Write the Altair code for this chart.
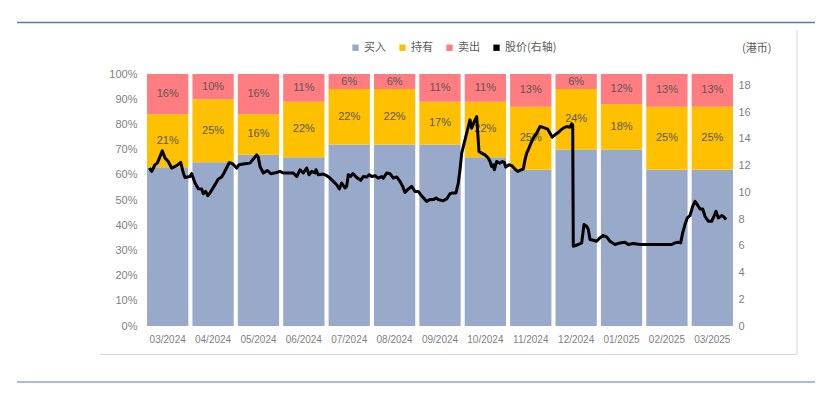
import altair as alt
import pandas as pd

# ---------------- data ----------------
months = ["03/2024", "04/2024", "05/2024", "06/2024", "07/2024", "08/2024", "09/2024",
          "10/2024", "11/2024", "12/2024", "01/2025", "02/2025", "03/2025"]
series = ["买入", "持有", "卖出"]
buy = [63, 65, 68, 67, 72, 72, 72, 67, 62, 70, 70, 62, 62]
hold = [21, 25, 16, 22, 22, 22, 17, 22, 25, 24, 18, 25, 25]
sell = [16, 10, 16, 11, 6, 6, 11, 11, 13, 6, 12, 13, 13]

# share price (HKD), position in months since start of 03/2024
price_t = [0.095, 0.148, 0.220, 0.271, 0.381, 0.441, 0.513, 0.588, 0.698, 0.787, 0.844, 0.881,
           0.992, 1.029, 1.102, 1.174, 1.249, 1.285, 1.337, 1.382, 1.432, 1.520, 1.615, 1.690,
           1.741, 1.813, 1.857, 1.932, 2.020, 2.071, 2.203, 2.314, 2.386, 2.461, 2.496, 2.534,
           2.607, 2.695, 2.770, 2.902, 2.975, 3.047, 3.157, 3.268, 3.343, 3.415, 3.488, 3.563,
           3.614, 3.673, 3.746, 3.768, 3.818, 3.929, 4.003, 4.076, 4.149, 4.224, 4.281, 4.334,
           4.407, 4.444, 4.479, 4.532, 4.576, 4.627, 4.678, 4.753, 4.810, 4.885, 4.942, 4.995,
           5.068, 5.140, 5.215, 5.251, 5.326, 5.398, 5.471, 5.546, 5.619, 5.678, 5.729, 5.801,
           5.876, 5.949, 6.022, 6.075, 6.169, 6.207, 6.280, 6.352, 6.412, 6.462, 6.573, 6.648,
           6.720, 6.780, 6.852, 6.903, 6.941, 6.978, 7.051, 7.124, 7.161, 7.198, 7.255, 7.308,
           7.359, 7.419, 7.491, 7.564, 7.602, 7.639, 7.674, 7.696, 7.749, 7.822, 7.873, 7.917,
           7.948, 8.020, 8.080, 8.152, 8.212, 8.285, 8.335, 8.373, 8.410, 8.445, 8.505, 8.556,
           8.631, 8.703, 8.754, 8.813, 8.873, 8.924, 8.974, 9.034, 9.106, 9.166, 9.217, 9.292,
           9.364, 9.402, 9.424, 9.437, 9.547, 9.622, 9.673, 9.732, 9.768, 9.805, 9.878, 9.952,
           10.025, 10.085, 10.173, 10.246, 10.356, 10.466, 10.576, 10.649, 10.759, 10.907, 11.054, 11.200,
           11.347, 11.495, 11.605, 11.677, 11.750, 11.803, 11.847, 11.898, 11.949, 12.008, 12.068, 12.118,
           12.169, 12.229, 12.288, 12.339, 12.412, 12.486, 12.537, 12.581, 12.632, 12.707, 12.758, 12.802]
price = [11.82, 11.57, 12.07, 12.19, 13.11, 12.57, 12.31, 11.82, 12.00, 12.24, 11.45, 11.12,
         11.19, 11.40, 10.70, 10.28, 10.25, 9.90, 10.07, 9.75, 9.96, 10.45, 11.00, 11.15,
         11.45, 11.94, 12.24, 12.14, 11.82, 12.07, 12.14, 12.19, 12.49, 12.81, 12.64, 11.94,
         11.45, 11.64, 11.40, 11.49, 11.57, 11.45, 11.45, 11.45, 11.19, 11.69, 11.45, 11.82,
         11.32, 11.57, 11.45, 11.69, 11.32, 11.37, 11.25, 11.07, 10.82, 10.57, 10.25, 10.70,
         10.33, 10.45, 11.32, 11.19, 11.40, 11.25, 11.07, 10.90, 11.19, 11.15, 11.32, 11.19,
         11.25, 11.07, 11.19, 11.07, 11.45, 11.40, 11.07, 11.15, 10.82, 10.45, 10.00, 10.25,
         10.45, 10.07, 10.07, 9.83, 9.46, 9.33, 9.46, 9.46, 9.58, 9.46, 9.38, 9.51,
         9.90, 9.96, 9.96, 10.70, 11.69, 12.94, 13.93, 14.93, 15.43, 14.81, 15.30, 15.67,
         13.06, 12.94, 12.81, 12.57, 12.31, 11.94, 12.07, 11.69, 12.31, 12.19, 12.31, 12.24,
         11.89, 12.07, 12.00, 11.75, 11.57, 11.69, 11.75, 12.44, 12.94, 13.19, 13.69, 14.06,
         14.43, 14.93, 14.88, 14.81, 14.73, 14.43, 14.13, 14.31, 14.48, 14.68, 14.81, 14.93,
         14.88, 15.13, 15.05, 5.97, 6.10, 6.22, 7.59, 7.46, 7.22, 6.47, 6.42, 6.34,
         6.60, 6.77, 6.67, 6.34, 6.10, 6.22, 6.27, 6.10, 6.17, 6.10, 6.10, 6.10,
         6.10, 6.10, 6.10, 6.22, 6.27, 6.22, 6.97, 7.59, 8.09, 8.26, 8.96, 9.33,
         9.08, 8.76, 8.76, 8.21, 7.84, 7.84, 8.21, 8.58, 8.09, 8.26, 8.16, 7.96]

price_label = "股价(右轴)"
colors = ["#98A9C9", "#FFC000", "#FF7C80", "#000000"]
pct_ticks = [0, 10, 20, 30, 40, 50, 60, 70, 80, 90, 100]
price_ticks = [0, 2, 4, 6, 8, 10, 12, 14, 16, 18]

# ---------------- tables ----------------
rows = []
for i, m in enumerate(months):
    for k, (name, vals) in enumerate(zip(series, [buy, hold, sell])):
        rows.append({"month": m, "series": name, "k": k, "share": vals[i],
                     "label": f"{vals[i]}%"})
bars_df = pd.DataFrame(rows)
n = min(len(price_t), len(price))
line_df = pd.DataFrame({"t": price_t[:n], "price": price[:n]})
one = pd.DataFrame({"a": [0]})

FONT = "Liberation Sans"
CJK = "Noto Sans CJK SC"
AX = "#7F7F7F"
TXT = "#595959"

W, H = 590, 252

x_axis = alt.Axis(title=None, labelAngle=0, ticks=False, domain=False,
                  labelPadding=8, labelFont=FONT, labelFontSize=10,
                  labelColor=AX, labelOverlap=False)
x_scale = alt.Scale(paddingInner=0.09, paddingOuter=0.045)
y_axis = alt.Axis(title=None, values=pct_ticks, labelExpr="datum.value + '%'",
                  grid=False, ticks=False, domain=False, labelPadding=8,
                  labelFont=FONT, labelFontSize=11, labelColor=AX,
                  labelOverlap=False, labelFlush=False)
y_scale = alt.Scale(domain=[0, 100], nice=False)

color = alt.Color("series:N",
                  scale=alt.Scale(domain=series + [price_label], range=colors),
                  legend=alt.Legend(title=None, orient="none", legendX=205, legendY=-32,
                                    direction="horizontal", columns=4, symbolType="square",
                                    symbolSize=40, symbolStrokeWidth=0, labelFont=CJK,
                                    labelFontSize=11, labelColor=TXT, columnPadding=11,
                                    labelOffset=3))

bars = alt.Chart(bars_df).mark_bar().encode(
    x=alt.X("month:N", sort=months, scale=x_scale, axis=x_axis),
    y=alt.Y("share:Q", stack="zero", scale=y_scale, axis=y_axis),
    color=color,
    order=alt.Order("k:Q", sort="ascending"),
)

labels = alt.Chart(bars_df).transform_stack(
    stack="share", as_=["y0", "y1"], groupby=["month"],
    sort=[alt.SortField("k", order="ascending")],
).transform_calculate(
    mid="(datum.y0 + datum.y1) / 2"
).transform_filter(
    "datum.k > 0"
).mark_text(font=FONT, fontSize=11, color=TXT, baseline="middle").encode(
    x=alt.X("month:N", sort=months, scale=x_scale, axis=x_axis),
    y=alt.Y("mid:Q", scale=y_scale, axis=y_axis),
    text="label:N",
)

line = alt.Chart(line_df).mark_line(color="black", strokeWidth=3, strokeJoin="round").encode(
    x=alt.X("t:Q", scale=alt.Scale(domain=[0, 13], nice=False, zero=False), axis=None),
    y=alt.Y("price:Q", scale=alt.Scale(domain=[0, 18.86], nice=False),
            axis=alt.Axis(orient="right", title=None, values=price_ticks,
                          grid=False, ticks=False, domain=False, labelPadding=3,
                          labelFont=FONT, labelFontSize=11, labelColor=AX,
                          labelOverlap=False, labelFlush=False)),
)

unit = alt.Chart(one).mark_text(font=CJK, fontSize=11, color=TXT, align="left",
                                baseline="middle").encode(
    x=alt.value(597), y=alt.value(-25), text=alt.value("(港币)"))

title_rule = alt.Chart(one).mark_rule(color="#5B7BB8", strokeWidth=1.5).encode(
    x=alt.value(-128), x2=alt.value(700), y=alt.value(-51.5))
foot_rule = alt.Chart(one).mark_rule(color="#5B7BB8", strokeWidth=1).encode(
    x=alt.value(-128), x2=alt.value(700), y=alt.value(308))
frame_r = alt.Chart(one).mark_rule(color="#D9D9D9", strokeWidth=1).encode(
    x=alt.value(652), y=alt.value(-44), y2=alt.value(281))
frame_b = alt.Chart(one).mark_rule(color="#D9D9D9", strokeWidth=1).encode(
    x=alt.value(-45), x2=alt.value(652), y=alt.value(280.5))

base = alt.layer(bars, labels)
chart = alt.layer(base, line, unit, title_rule, foot_rule, frame_r, frame_b).resolve_scale(
    x="independent", y="independent"
).properties(
    width=W, height=H,
    padding={"left": 137, "top": 66, "right": 80, "bottom": 60},
    autosize=alt.AutoSizeParams(type="none"),
).configure_view(stroke=None)

chart.save("out.html", embed_options={"renderer": "svg", "actions": False})
